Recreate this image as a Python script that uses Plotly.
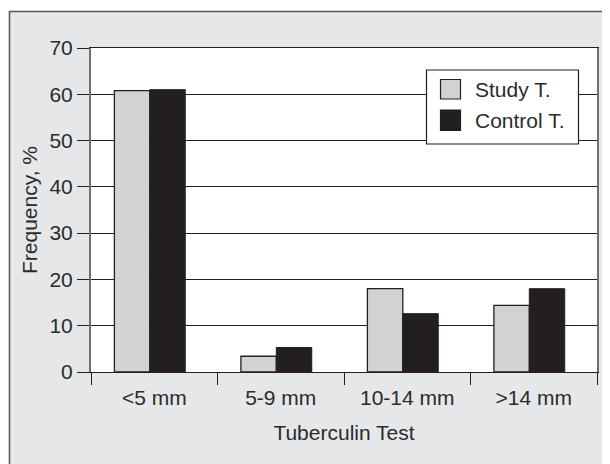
import plotly.graph_objects as go

categories = ["<5 mm", "5-9 mm", "10-14 mm", ">14 mm"]
study_t = [60.8, 3.4, 18.0, 14.4]
control_t = [61.0, 5.3, 12.6, 18.0]
series_names = ["Study T.", "Control T."]
y_ticks = [0, 10, 20, 30, 40, 50, 60, 70]

DARK = "#231f20"
LIGHT = "#d1d2d4"
FONT = "Liberation Sans"
TXT = "#2b2b2b"
FS = 21

# page body has an 8px margin; figure placed at (8, 8)
OFF = 8
W, H = 610 - OFF, 464 - OFF
L, R, T, B = 91 - OFF, 13, 48 - OFF, 92
pw, ph = W - L - R, H - T - B

def px(x):
    return (x - OFF - L) / pw

def py(y):
    return (H - B - (y - OFF)) / ph

fig = go.Figure()
fig.add_trace(go.Bar(x=categories, y=study_t, name=series_names[0],
                     marker=dict(color=LIGHT, line=dict(color=DARK, width=1.3)),
                     width=0.28, offset=-0.315, showlegend=False))
fig.add_trace(go.Bar(x=categories, y=control_t, name=series_names[1],
                     marker=dict(color=DARK, line=dict(color=DARK, width=1)),
                     width=0.28, offset=-0.035, showlegend=False))

shapes = [
    # outer gray frame
    dict(type="rect", xref="paper", yref="paper", layer="below",
         x0=px(9.5), x1=px(640), y0=py(500), y1=py(11.5),
         fillcolor="#e6e7e8", line=dict(color="#58595b", width=1.6)),
    dict(type="rect", xref="paper", yref="paper", layer="below",
         x0=0, x1=1, y0=0, y1=1, fillcolor="white", line=dict(width=0)),
    # legend box
    dict(type="rect", xref="paper", yref="paper", layer="above",
         x0=px(426.5), x1=px(578.5), y0=py(144), y1=py(70),
         fillcolor="white", line=dict(color=DARK, width=1.2)),
    dict(type="rect", xref="paper", yref="paper", layer="above",
         x0=px(440.5), x1=px(460.5), y0=py(99), y1=py(79.5),
         fillcolor=LIGHT, line=dict(color=DARK, width=1.2)),
    dict(type="rect", xref="paper", yref="paper", layer="above",
         x0=px(440.5), x1=px(460.5), y0=py(130.5), y1=py(110),
         fillcolor=DARK, line=dict(color=DARK, width=1.2)),
]

annotations = [
    dict(xref="paper", yref="paper", x=px(473), y=py(89.5), text=series_names[0],
         showarrow=False, xanchor="left", yanchor="middle",
         font=dict(family=FONT, size=FS, color=TXT)),
    dict(xref="paper", yref="paper", x=px(473), y=py(120.5), text=series_names[1],
         showarrow=False, xanchor="left", yanchor="middle",
         font=dict(family=FONT, size=FS, color=TXT)),
]

fig.update_layout(
    width=W, height=H,
    margin=dict(l=L, r=R, t=T, b=B, pad=0),
    paper_bgcolor="white", plot_bgcolor="white",
    font=dict(family=FONT, size=FS, color=TXT),
    shapes=shapes, annotations=annotations,
    barmode="group",
    xaxis=dict(
        type="category", showgrid=False, ticks="outside", tickson="boundaries",
        ticklen=12, tickcolor=DARK, tickwidth=1.2,
        ticklabelstandoff=7,
        showline=True, linecolor=DARK, linewidth=1.2, mirror=True,
        tickfont=dict(family=FONT, size=FS, color=TXT),
        title=dict(text="Tuberculin Test", standoff=17,
                   font=dict(family=FONT, size=FS, color=TXT)),
    ),
    yaxis=dict(
        range=[0, 70], tickvals=y_ticks, ticks="outside", ticklen=12,
        tickcolor=DARK, tickwidth=1.2,
        showgrid=True, gridcolor=DARK, gridwidth=1.1,
        zeroline=False,
        showline=True, linecolor="#6d6e71", linewidth=2, mirror=True,
        tickfont=dict(family=FONT, size=FS, color=TXT),
        title=dict(text="Frequency, %", standoff=6,
                   font=dict(family=FONT, size=FS, color=TXT)),
    ),
)

fig.write_html("out.html")
